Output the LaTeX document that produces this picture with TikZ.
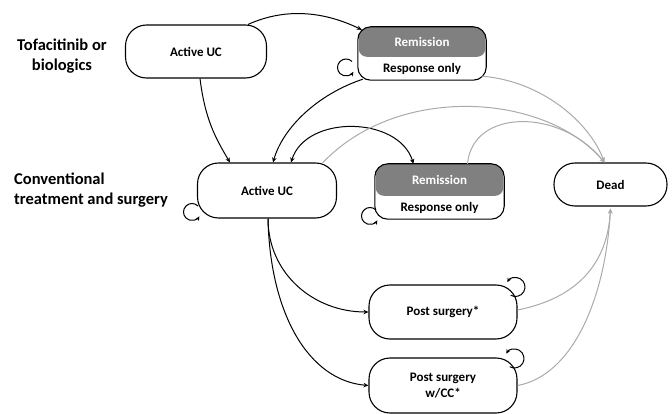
\documentclass[tikz,border=0pt]{standalone}
\usepackage{fontspec}
\setmainfont{Carlito}
\usetikzlibrary{arrows.meta,calc}
\definecolor{remgray}{RGB}{128,128,128}
\definecolor{lgray}{RGB}{170,170,170}
\begin{document}
\begin{tikzpicture}[x=1pt,y=-1pt,
  nodefont/.style={font=\fontsize{13}{16}\selectfont\bfseries},
  state/.style={draw, line width=1.1pt, rounded corners=21pt, inner sep=0pt, nodefont, align=center},
  remframe/.style={line width=1.1pt, rounded corners=13pt},
  blk/.style={line width=1pt, -{Stealth[length=5pt,width=4.5pt]}},
  gry/.style={lgray, line width=1pt, -{Stealth[length=5pt,width=4.5pt]}},
  loopst/.style={line width=1pt, -{Stealth[length=4.5pt,width=4pt]}},
  title/.style={font=\fontsize{16.5}{20}\selectfont\bfseries, inner sep=0pt}
]
\useasboundingbox (0,0) rectangle (672,414);

% titles
\node[title, align=center] (t1) at (62,56) {Tofacitinib or\\biologics};
\node[title, align=left, anchor=west] (t2) at (14,190) {Conventional\\treatment and surgery};

% plain states
\node[state, minimum width=141pt, minimum height=53pt] (atop) at (196,51.5) {Active UC};
\node[state, minimum width=139pt, minimum height=55pt] (amid) at (267,190.5) {Active UC};
\node[state, minimum width=113pt, minimum height=43pt] (dead) at (610.5,184.5) {Dead};
\node[state, minimum width=148pt, minimum height=54pt] (ps) at (443,312) {Post surgery*};
\node[state, minimum width=148pt, minimum height=55pt] (pscc) at (443,385.5) {Post surgery\\w/CC*};

% remission boxes
\node[minimum width=128pt, minimum height=53pt, inner sep=0pt] (rtop) at (422,53.5) {};
\node[minimum width=129pt, minimum height=55pt, inner sep=0pt] (rmid) at (439.5,191.5) {};
\foreach \n/\h in {rtop/30, rmid/32}{
  \begin{scope}
    \clip[rounded corners=13pt] (\n.north west) rectangle (\n.south east);
    \fill[remgray, rounded corners=8pt] ($(\n.north west)+(1,-12)$) rectangle ($(\n.north east)+(-1,\h)$);
  \end{scope}
  \draw[remframe] (\n.north west) rectangle (\n.south east);
}
\node[nodefont, white] (rtopa) at ($(rtop.north)+(0,15)$) {Remission};
\node[nodefont] (rtopb) at ($(rtop.south)+(0,-11)$) {Response only};
\node[nodefont, white] (rmida) at ($(rmid.north)+(0,16)$) {Remission};
\node[nodefont] (rmidb) at ($(rmid.south)+(0,-11)$) {Response only};

% black transitions
\draw[blk] ($(atop.north)+(52,0)$) .. controls +(40,-18) and +(-35,-17) .. ($(rtop.north west)+(4,3)$);
\draw[blk] ($(atop.south)+(4,0)$) .. controls +(5,40) and +(-15,-25) .. ($(amid.north)+(-37,0)$);
\draw[blk] ($(rtop.south west)+(5,-1)$) .. controls +(-45,15) and +(10,-35) .. ($(amid.north)+(6,0)$);
\draw[line width=1pt, {Stealth[length=5pt,width=4.5pt]}-{Stealth[length=5pt,width=4.5pt]}]
  ($(amid.north)+(24,0)$) .. controls +(15,-48) and +(-15,-48) .. ($(rmid.north)+(-26,0)$);
\draw[blk] ($(amid.south)+(1,0)$) .. controls +(0,55) and +(-55,0) .. (ps.west);
\draw[blk] ($(amid.south)+(1,0)$) .. controls +(2,95) and +(-60,-5) .. (pscc.west);

% grey transitions to dead
\coordinate (dtop) at ($(dead.north)+(-6,0)$);
\coordinate (dbot) at ($(dead.south)+(0,2)$);
\draw[gry] ($(rtop.south east)+(-4,-4)$) .. controls +(60,5) and +(-15,-40) .. (dtop);
\draw[gry] ($(amid.north east)+(-15,1)$) .. controls +(75,-80) and +(-60,-70) .. (dtop);
\draw[gry] ($(rmid.north)+(28,0)$) .. controls +(5,-55) and +(-45,-55) .. (dtop);
\draw[gry] ($(ps.east)+(0,-2)$) .. controls +(60,-12) and +(-3,55) .. (dbot);
\draw[gry] (pscc.east) .. controls +(55,-10) and +(-5,90) .. (dbot);

% self loops
\coordinate (lrt) at (346,67.5);
\coordinate (lam) at (192,212);
\coordinate (lrm) at (370,216);
\coordinate (lps) at (515.5,287);
\coordinate (lpc) at (514.5,358.5);
\draw[loopst] (lrt) ++(-45:8.5) arc[start angle=-45, end angle=-330, radius=8.5];
\draw[loopst] (lam) ++(-45:8.5) arc[start angle=-45, end angle=-330, radius=8.5];
\draw[loopst] (lrm) ++(-45:8.5) arc[start angle=-45, end angle=-330, radius=8.5];
\draw[loopst] (lps) ++(120:9.5) arc[start angle=120, end angle=-150, radius=9.5];
\draw[loopst] (lpc) ++(120:9.5) arc[start angle=120, end angle=-150, radius=9.5];
\end{tikzpicture}
\end{document}
